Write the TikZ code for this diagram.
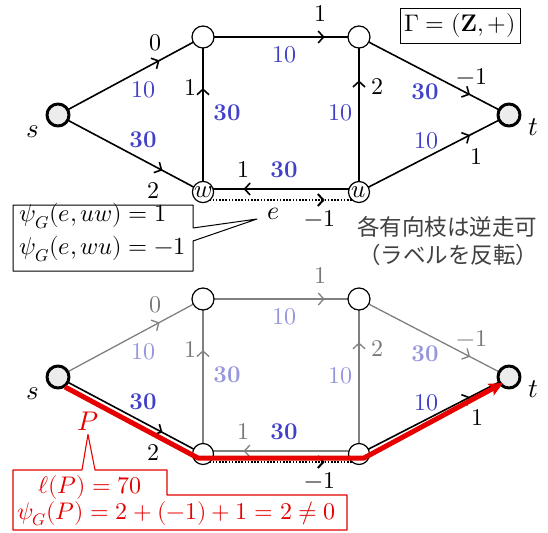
\documentclass[tikz,border=0pt]{standalone}
\usepackage{fontspec}
\usepackage{unicode-math}
\setmathfont{Latin Modern Math}
\newfontfamily\jpfont{Noto Sans CJK JP}
\usetikzlibrary{arrows.meta,decorations.markings,calc,backgrounds}
\definecolor{nblue}{RGB}{64,64,200}
\definecolor{lblue}{RGB}{150,150,222}
\definecolor{egray}{RGB}{128,128,128}
\definecolor{tgray}{RGB}{120,120,120}
\definecolor{jgray}{RGB}{64,64,64}
\definecolor{tfill}{RGB}{236,236,236}
\definecolor{pred}{RGB}{230,0,0}
\begin{document}
\begin{tikzpicture}[x=1pt,y=-1pt,line join=round,
  F/.style={font=\fontsize{24}{28}\selectfont},
  CF/.style={font=\fontsize{24.5}{29}\selectfont},
  RF/.style={font=\fontsize{24}{28}\selectfont},
  lab/.style={F,inner sep=0pt},
  bn/.style={lab,text=nblue},
  bb/.style={lab,text=nblue},
  gl/.style={lab,text=tgray},
  lb/.style={lab,text=lblue},
  vtx/.style={circle,draw,fill=white,minimum size=22pt,inner sep=0pt,line width=1.2pt},
  term/.style={circle,draw,fill=tfill,minimum size=22pt,inner sep=0pt,line width=3pt},
  wu/.style={circle,draw,fill=white,minimum size=21pt,inner sep=0pt,line width=1.2pt,font=\fontsize{25}{28}\selectfont},
  ed/.style={line width=1.6pt,draw=black},
  ged/.style={line width=1.3pt,draw=egray},
  dot/.style={line width=2pt,draw=black,dash pattern=on 1.6pt off 1.6pt},
  ma/.style={postaction={decorate},decoration={markings,mark=at position #1 with {\arrow{Straight Barb[length=5.5pt,width=12pt]}}}},
  callout/.style={draw,line width=1pt,fill=white}
]
\begin{scope}[on background layer]
\fill[white] (0,0) rectangle (548,532);
\end{scope}
\useasboundingbox (0,0) rectangle (548,532);

% ---------- top graph ----------
\node[term] (s) at (58,115) {};
\node[vtx] (a) at (203,37) {};
\node[vtx] (b) at (359,37) {};
\node[wu] (w) at (203,192) {$w$};
\node[wu] (u) at (359,192) {$u$};
\node[term] (t) at (509,115) {};
\node[lab,font=\fontsize{27}{30}\selectfont] (sl) at (33,132) {$s$};
\node[lab,font=\fontsize{27}{30}\selectfont] (tl) at (533,127) {$t$};

\begin{scope}[on background layer]
\draw[ed,ma=0.70] (s.center) -- (a.center);
\draw[ed,ma=0.72] (s.center) -- (w.center);
\draw[ed,ma=0.78] (a.center) -- (b.center);
\draw[ed,ma=0.67] (w.center) -- (a.center);
\draw[ed,ma=0.72] (u.center) -- (b.center);
\draw[ed,ma=0.74] (b.center) -- (t.center);
\draw[ed,ma=0.74] (u.center) -- (t.center);
\draw[ed,ma=0.74] ([yshift=3pt]u.center) -- ([yshift=3pt]w.center);
\draw[dot,ma=0.78] ([yshift=-8pt]w.center) -- ([yshift=-8pt]u.center);
\end{scope}

\node[lab] (l0) at (155,43) {$0$};
\node[bn] (l1) at (143,90) {$10$};
\node[bb] (l2) at (143,140) {$\mathbf{30}$};
\node[lab] (l3) at (153,191) {$2$};
\node[lab] (l4) at (320,14) {$1$};
\node[bn] (l5) at (284,55) {$10$};
\node[lab] (l6) at (190,88) {$1$};
\node[bb] (l7) at (227,113) {$\mathbf{30}$};
\node[lab] (l8) at (377,87) {$2$};
\node[bn] (l9) at (340,113) {$10$};
\node[lab] (l10) at (472,77) {$-1$};
\node[bb] (l11) at (425,92) {$\mathbf{30}$};
\node[bn] (l12) at (426,141) {$10$};
\node[lab] (l13) at (476,157) {$1$};
\node[lab] (l14) at (243,170) {$1$};
\node[bb] (l15) at (284,170) {$\mathbf{30}$};
\node[lab,font=\fontsize{26}{30}\selectfont] (le) at (274,214) {$e$};
\node[lab] (l16) at (320,219) {$-1$};

\node[draw,line width=1pt,minimum width=120pt,minimum height=35pt,inner sep=0pt,F] (gam) at (460,26) {$\Gamma=(\mathbf{Z},+)$};

% black callout
\coordinate (ctip) at (257,219);
\draw[callout] (13,205) -- (193,205) -- (193,228) -- (ctip) -- (193,241) -- (193,271) -- (13,271) -- cycle;
\node[lab,CF,anchor=west] (c1) at (19,216) {$\psi_G(e,uw)=1$};
\node[lab,CF,anchor=west] (c2) at (19,249) {$\psi_G(e,wu)=-1$};

\node[lab,text=jgray,font=\jpfont\fontsize{22.5}{26}\selectfont] (j1) at (447,227) {各有向枝は逆走可};
\node[lab,text=jgray,font=\jpfont\fontsize{22.5}{26}\selectfont] (j2) at (448,255) {（ラベルを反転）};

% ---------- bottom graph ----------
\node[term] (s2) at (58,377) {};
\node[vtx] (a2) at (203,299) {};
\node[vtx] (b2) at (359,299) {};
\node[vtx,minimum size=21pt] (w2) at (203,454) {};
\node[vtx,minimum size=21pt] (u2) at (359,454) {};
\node[term] (t2) at (509,377) {};
\node[lab,font=\fontsize{27}{30}\selectfont] (sl2) at (33,394) {$s$};
\node[lab,font=\fontsize{27}{30}\selectfont] (tl2) at (533,389) {$t$};

\begin{scope}[on background layer]
\draw[ged,ma=0.70] (s2.center) -- (a2.center);
\draw[ed,ma=0.72] (s2.center) -- (w2.center);
\draw[ged,ma=0.78] (a2.center) -- (b2.center);
\draw[ged,ma=0.67] (w2.center) -- (a2.center);
\draw[ged,ma=0.72] (u2.center) -- (b2.center);
\draw[ged,ma=0.74] (b2.center) -- (t2.center);
\draw[ed,ma=0.74] (u2.center) -- (t2.center);
\draw[ged,ma=0.74] ([yshift=3pt]u2.center) -- ([yshift=3pt]w2.center);
\draw[dot,ma=0.78] ([yshift=-8pt]w2.center) -- ([yshift=-8pt]u2.center);
\end{scope}

\node[gl] (m0) at (155,305) {$0$};
\node[lb] (m1) at (143,352) {$10$};
\node[bb] (m2) at (143,402) {$\mathbf{30}$};
\node[lab] (m3) at (153,453) {$2$};
\node[gl] (m4) at (320,276) {$1$};
\node[lb] (m5) at (284,317) {$10$};
\node[gl] (m6) at (190,350) {$1$};
\node[lb] (m7) at (227,375) {$\mathbf{30}$};
\node[gl] (m8) at (377,349) {$2$};
\node[lb] (m9) at (340,376) {$10$};
\node[gl] (m10) at (472,339) {$-1$};
\node[lb] (m11) at (425,354) {$\mathbf{30}$};
\node[bn] (m12) at (426,403) {$10$};
\node[lab] (m13) at (477,418) {$1$};
\node[gl] (m14) at (243,432) {$1$};
\node[bb] (m15) at (284,432) {$\mathbf{30}$};
\node[lab] (m16) at (320,481) {$-1$};

% red path
\coordinate (r1) at ($(s2)+(7,10)$);
\coordinate (r2) at ($(w2)+(-5,4)$);
\coordinate (r3) at ($(u2)+(5,4)$);
\coordinate (r4) at ($(t2)+(-6,6)$);
\draw[pred,line width=5pt,-{Stealth[length=14pt,width=13pt,inset=3pt]}] (r1) -- (r2) -- (r3) -- (r4);

\node[lab,text=pred,font=\fontsize{27}{30}\selectfont] (P) at (88,421) {$P$};
\draw[callout,draw=pred,line width=1.1pt] (13,470) -- (82,470) -- ([yshift=-4pt]P.south) -- (95,470) -- (167,470) -- (167,495) -- (347,495) -- (347,530) -- (13,530) -- cycle;
\node[lab,RF,text=pred] (r1t) at (90,487) {$\ell(P)=70$};
\node[lab,RF,text=pred,anchor=west] (r2t) at (17,514) {$\psi_G(P)=2+(-1)+1=2\neq 0$};
\end{tikzpicture}
\end{document}
